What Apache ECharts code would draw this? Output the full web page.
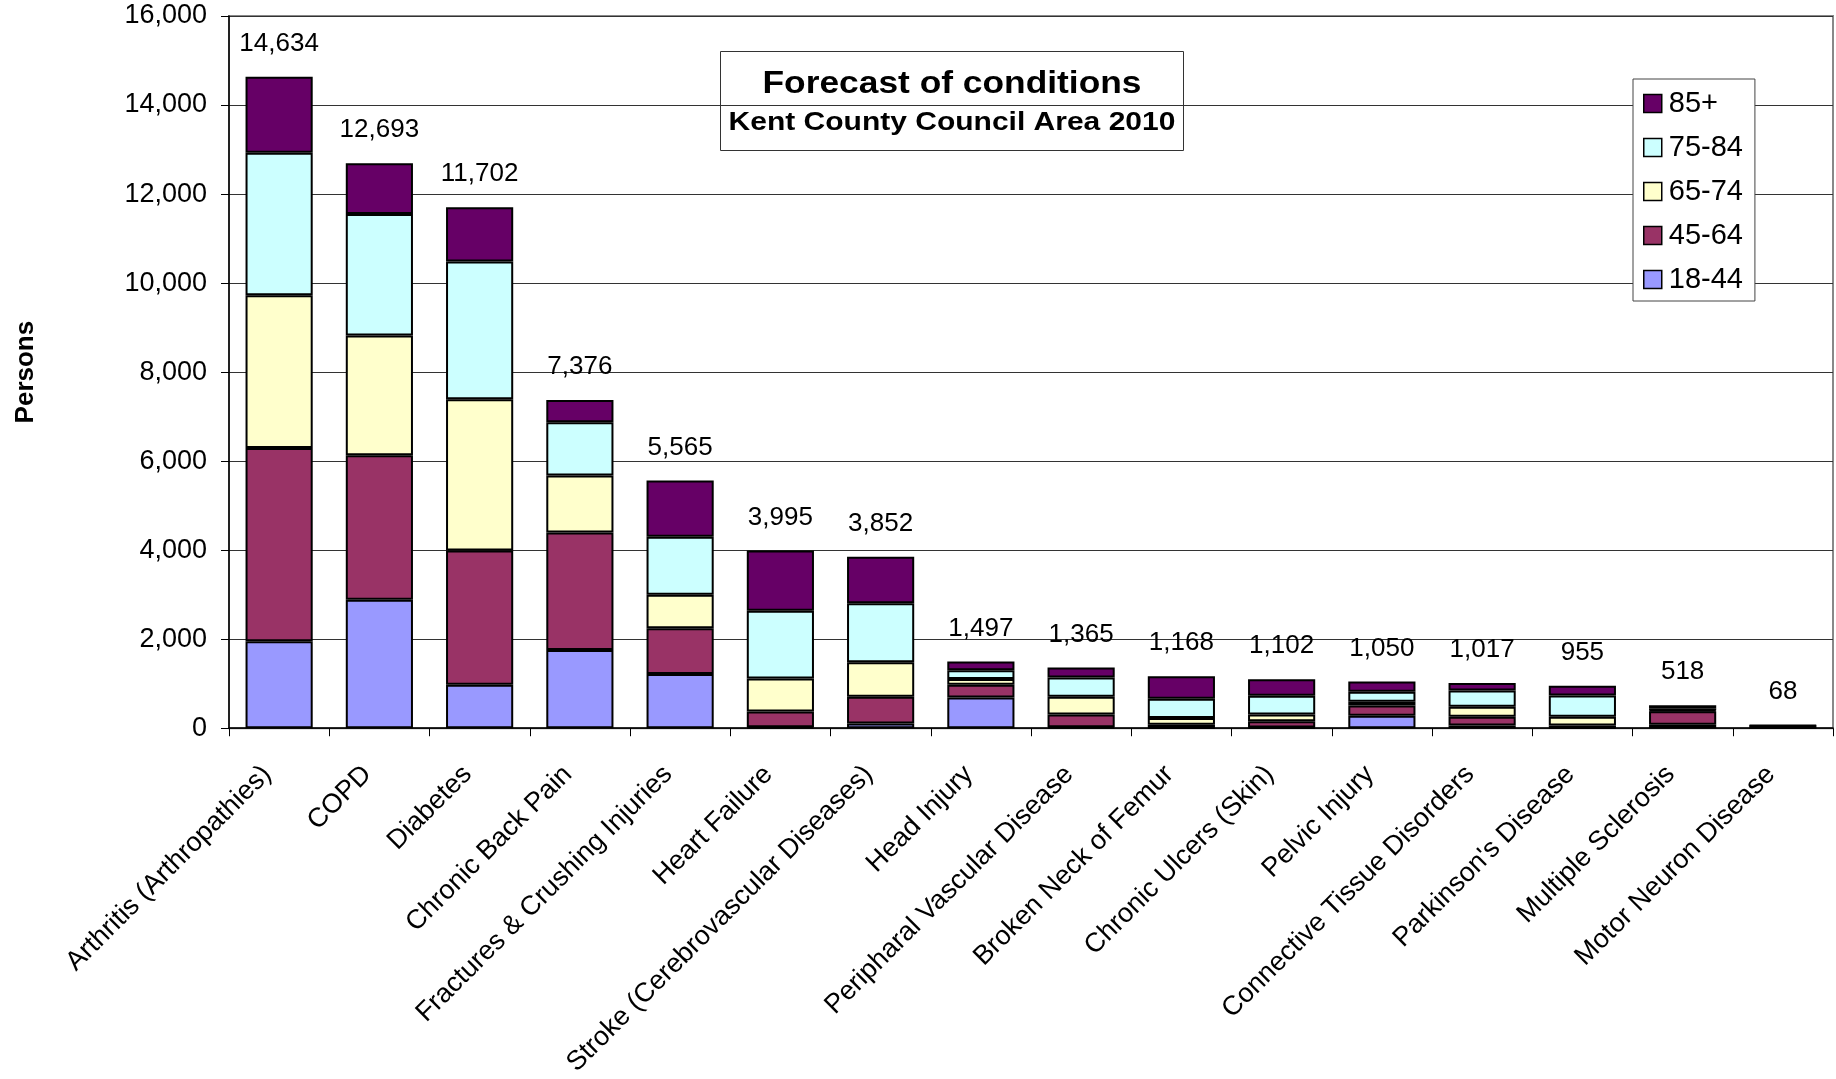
<!DOCTYPE html>
<html>
<head>
<meta charset="utf-8">
<script src="https://cdn.jsdelivr.net/npm/echarts@6/dist/echarts.min.js"></script>
<style>
html,body{margin:0;padding:0;background:#fff;}
#chart{width:1836px;height:1079px;}
</style>
</head>
<body>
<div id="chart"></div>
<script>
const categories = ["Arthritis (Arthropathies)", "COPD", "Diabetes", "Chronic Back Pain",
  "Fractures & Crushing Injuries", "Heart Failure", "Stroke (Cerebrovascular Diseases)",
  "Head Injury", "Peripharal Vascular Disease", "Broken Neck of Femur", "Chronic Ulcers (Skin)",
  "Pelvic Injury", "Connective Tissue Disorders", "Parkinson's Disease", "Multiple Sclerosis",
  "Motor Neuron Disease"];
const age18_44 = [1954, 2887, 977, 1759, 1216, 20, 105, 690, 20, 10, 15, 278, 62, 10, 80, 5];
const age45_64 = [4342, 3246, 3018, 2637, 1031, 355, 600, 285, 287, 67, 139, 231, 194, 52, 300, 30];
const age65_74 = [3430, 2692, 3397, 1281, 749, 742, 779, 130, 398, 154, 154, 85, 225, 194, 20, 10];
const age75_84 = [3202, 2725, 3094, 1194, 1303, 1523, 1326, 200, 437, 429, 423, 224, 365, 481, 50, 13];
const age85plus = [1706, 1143, 1216, 505, 1266, 1355, 1042, 192, 223, 508, 371, 232, 171, 218, 68, 10];
const totals = [14634, 12693, 11702, 7376, 5565, 3995, 3852, 1497, 1365, 1168, 1102, 1050, 1017, 955, 518, 68];
const yTicks = [0, 2000, 4000, 6000, 8000, 10000, 12000, 14000, 16000];
const seriesNames = ["18-44", "45-64", "65-74", "75-84", "85+"];
const seriesColors = ["#9999FF", "#993366", "#FFFFCC", "#CCFFFF", "#660066"];
const seriesData = [age18_44, age45_64, age65_74, age75_84, age85plus];

const FONT = "'Liberation Sans', Arial, sans-serif";
const chart = echarts.init(document.getElementById('chart'), null, {renderer: 'canvas'});

const series = seriesNames.map((name, i) => ({
  name: name,
  type: 'bar',
  stack: 'total',
  barWidth: '67%',
  data: seriesData[i],
  itemStyle: {color: seriesColors[i], borderColor: '#000', borderWidth: 2},
  emphasis: {disabled: true},
  label: i === seriesNames.length - 1 ? {
    show: true,
    position: 'top',
    distance: 20,
    color: '#000',
    fontFamily: FONT,
    fontSize: 26,
    formatter: p => totals[p.dataIndex].toLocaleString('en-US')
  } : {show: false}
}));

chart.setOption({
  animation: false,
  backgroundColor: '#fff',
  grid: {left: 229, right: 3, top: 16, bottom: 350, show: true, borderColor: '#888', borderWidth: 2, backgroundColor: 'transparent'},
  legend: {
    data: ["85+", "75-84", "65-74", "45-64", "18-44"],
    orient: 'vertical',
    left: 1633, top: 79,
    padding: [10, 12, 7, 10],
    itemGap: 15,
    itemWidth: 18, itemHeight: 18,
    icon: 'rect',
    backgroundColor: '#fff',
    borderColor: '#444', borderWidth: 1,
    itemStyle: {borderColor: '#000', borderWidth: 1.5},
    textStyle: {fontFamily: FONT, fontSize: 29, color: '#000', padding: [0, 0, 0, 2]},
    selectedMode: false
  },
  xAxis: {
    type: 'category',
    data: categories,
    axisLine: {lineStyle: {color: '#000', width: 1.5}},
    axisTick: {show: true, length: 8, lineStyle: {color: '#000'}},
    axisLabel: {rotate: 45, interval: 0, margin: 30, padding: [0, 17, 0, 0], color: '#000', fontFamily: FONT, fontSize: 27}
  },
  yAxis: {
    type: 'value',
    min: yTicks[0], max: yTicks[yTicks.length - 1], interval: yTicks[1] - yTicks[0],
    name: 'Persons',
    nameLocation: 'middle',
    nameGap: 190,
    nameTextStyle: {fontFamily: FONT, fontSize: 26, fontWeight: 'bold', color: '#000'},
    axisLine: {show: true, lineStyle: {color: '#000', width: 1.5}},
    axisTick: {show: true, length: 8, lineStyle: {color: '#000'}},
    splitLine: {show: true, lineStyle: {color: '#333', width: 1}},
    axisLabel: {margin: 22, color: '#000', fontFamily: FONT, fontSize: 27,
      formatter: v => v.toLocaleString('en-US')}
  },
  graphic: [{
    type: 'group',
    left: 720, top: 51,
    z: 100,
    children: [
      {type: 'rect', shape: {x: 0, y: 0, width: 463, height: 99}, style: {fill: '#fff', stroke: '#333', lineWidth: 1}},
      {type: 'text', x: 231.5, y: 33, style: {text: 'Forecast of conditions', fontFamily: FONT, fontSize: 31, fontWeight: 'bold', fill: '#000', align: 'center', verticalAlign: 'middle'}, scaleX: 1.14},
      {type: 'text', x: 231.5, y: 72, style: {text: 'Kent County Council Area 2010', fontFamily: FONT, fontSize: 25, fontWeight: 'bold', fill: '#000', align: 'center', verticalAlign: 'middle'}, scaleX: 1.2}
    ]
  }],
  series: series
});
</script>
</body>
</html>
